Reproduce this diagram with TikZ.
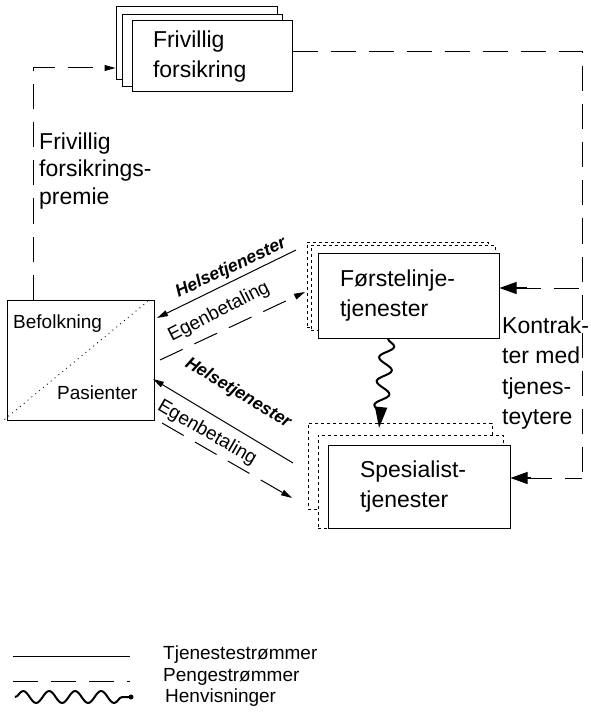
\documentclass[tikz,border=0pt]{standalone}
\usepackage{fontspec}
\setmainfont{Liberation Sans}
\usetikzlibrary{arrows.meta,decorations.pathmorphing}
\begin{document}
\begin{tikzpicture}[x=1pt,y=-1pt,
  box/.style={draw,line width=1pt,fill=white,inner ysep=0pt},
  dotbox/.style={draw,line width=0.8pt,dash pattern=on 3pt off 3pt,fill=white},
  big/.style={font=\fontsize{23}{30}\selectfont,align=left},
  mid/.style={font=\fontsize{19}{22}\selectfont,inner sep=0pt},
  hl/.style={font=\fontsize{17.5}{20}\selectfont\bfseries\itshape,inner sep=0pt},
  money/.style={line width=1pt,dash pattern=on 25pt off 13pt},
  serv/.style={line width=1pt},
  tip/.style={-{Triangle[length=11pt,width=6pt]}},
  bigtip/.style={{Triangle[length=17pt,width=12pt]}-},
  refline/.style={line width=2pt,decorate,decoration={snake,segment length=24pt,amplitude=7pt,post length=3pt}}
]
\useasboundingbox (0,0) rectangle (590,719);

% Frivillig forsikring stack
\node[box,minimum width=161pt,minimum height=73pt] (fb1) at (196.5,43.5) {};
\node[box,minimum width=160pt,minimum height=72pt] (fb2) at (202,51) {};
\node[box,big,minimum width=160pt,minimum height=71pt,inner xsep=21pt,text width=118pt] (Friv) at (212,56.5) {Frivillig\\forsikring};

% Forstelinje stack
\node[dotbox,minimum width=181pt,minimum height=85pt] (fo1) at (397.5,284.5) {};
\node[dotbox,minimum width=184pt,minimum height=85pt] (fo2) at (403,287.5) {};
\node[box,big,minimum width=181pt,minimum height=85pt,inner xsep=22pt,text width=137pt] (Forst) at (408.5,295.5) {Førstelinje-\\tjenester};

% Spesialist stack
\node[dotbox,minimum width=184pt,minimum height=86pt] (sp1) at (400,466) {};
\node[dotbox,minimum width=185pt,minimum height=93pt] (sp2) at (410.5,481.5) {};
\node[box,big,minimum width=182pt,minimum height=83pt,inner xsep=32pt,text width=118pt] (Spes) at (419,486.5) {Spesialist-\\tjenester};

% Befolkning
\node[draw,line width=1pt,minimum width=147pt,minimum height=120pt] (Bef) at (80.5,360) {};
\draw[line width=0.8pt,dash pattern=on 1pt off 4pt] ([xshift=-2pt,yshift=1pt]Bef.south west) -- ([xshift=-7pt,yshift=-2pt]Bef.north east);
\node[mid,anchor=west] (befT) at (13,324) {Befolkning};
\node[mid,anchor=west] (pasT) at (57,393) {Pasienter};

% left premium flow
\coordinate (c1) at (33,68);
\draw[money,tip] (Bef.north -| c1) -- (c1) -- (fb1.west |- c1);
\node[big,anchor=north west,inner sep=0pt,font=\fontsize{23}{27.5}\selectfont] (prem) at (39,132.5) {Frivillig\\forsikrings-\\premie};

% right contract flow
\coordinate (c2) at (582,52);
\coordinate (c3) at (582,288);
\coordinate (c4) at (582,478);
\draw[money] (Friv.east |- c2) -- (c2) -- (c4);
\draw[money,bigtip] (Forst.east |- c3) -- (c3);
\draw[money,bigtip] (Spes.east |- c4) -- (c4);
\draw[line width=2pt] ([xshift=15pt]Forst.east |- c3) -- ([xshift=27pt]Forst.east |- c3);
\draw[line width=2pt] ([xshift=15pt]Spes.east |- c4) -- ([xshift=20pt]Spes.east |- c4);
\node[big,anchor=north west,inner sep=0pt,font=\fontsize{23}{30.5}\selectfont] (kon) at (502,316.5) {Kontrak-\\ter med\\tjenes-\\teytere};

% diagonal flows
\coordinate (h1a) at (296,250); \coordinate (h1b) at (157,318);
\draw[serv,tip] (h1a) -- (h1b);
\coordinate (e1a) at (160,360); \coordinate (e1b) at (305,292);
\draw[money,tip] (e1a) -- (e1b);
\coordinate (h2a) at (293,463); \coordinate (h2b) at (153,379);
\draw[serv,tip] (h2a) -- (h2b);
\coordinate (e2a) at (162,423); \coordinate (e2b) at (292,498);
\draw[money,tip] (e2a) -- (e2b);
\node[hl,rotate=25] (hl1) at (231,268) {Helsetjenester};
\node[mid,rotate=27] (el1) at (219,312) {Egenbetaling};
\node[hl,rotate=-31] (hl2) at (238,393) {Helsetjenester};
\node[mid,rotate=-30] (el2) at (207,433) {Egenbetaling};

% referral
\coordinate (s1) at (388,338);
\coordinate (s2) at (379,428);
\draw[refline,-{Triangle[length=21pt,width=12pt]}] (Forst.south -| s1) -- (s2);

% legend
\coordinate (l1a) at (13,656); \coordinate (l1b) at (130,656);
\coordinate (l2a) at (13,681); \coordinate (l2b) at (130,681);
\coordinate (l3a) at (15,697); \coordinate (l3b) at (131,697);
\draw[serv] (l1a) -- (l1b);
\draw[money] (l2a) -- (l2b);
\draw[line width=2pt,decorate,decoration={snake,segment length=26pt,amplitude=6pt}] (l3a) -- (l3b);
\fill (l3b) circle (2.5pt);
\node[mid,anchor=west] (lt1) at (163,655) {Tjenestestrømmer};
\node[mid,anchor=west] (lt2) at (163,677) {Pengestrømmer};
\node[mid,anchor=west] (lt3) at (165,698) {Henvisninger};
\end{tikzpicture}
\end{document}
